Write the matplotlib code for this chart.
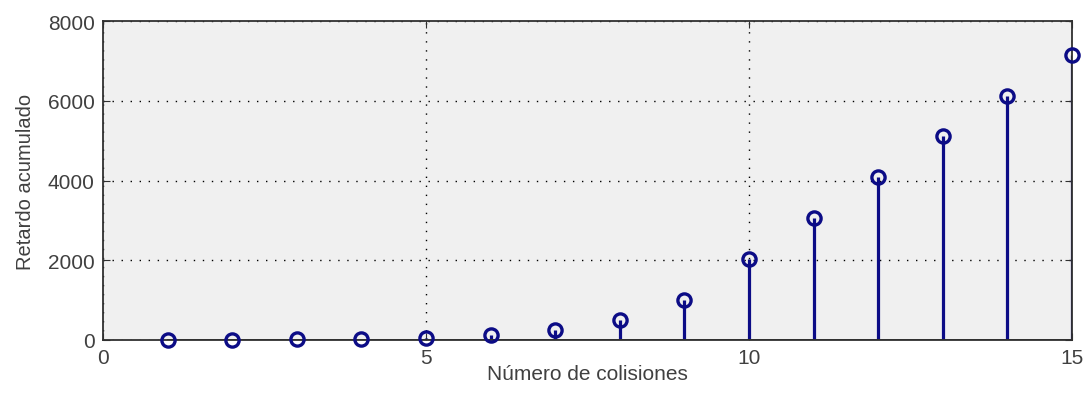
import numpy as np
import matplotlib.pyplot as plt

# numero de colisiones y retardo acumulado
colisiones = [1, 2, 3, 4, 5, 6, 7, 8, 9, 10, 11, 12, 13, 14, 15]
retardo = [1, 4, 11, 26, 57, 120, 247, 502, 1013, 2036, 3059, 4082, 5105, 6128, 7151]

x_ticks = [0, 5, 10, 15]
y_ticks = [0, 2000, 4000, 6000, 8000]

azul = '#0c0c86'
gris = '#404040'

plt.rcParams['font.family'] = ['Liberation Sans', 'DejaVu Sans']

fig = plt.figure(figsize=(10.84, 4.02), dpi=100)
ax = fig.add_axes([0.095, 0.152, 0.894, 0.793])
ax.set_facecolor('#f0f0f0')

markers, stems, base = ax.stem(colisiones, retardo, linefmt='-', markerfmt='o', basefmt='-')
plt.setp(stems, color=azul, linewidth=2.3)
plt.setp(markers, markerfacecolor='none', markeredgecolor=azul, markersize=9.5, markeredgewidth=2.4, clip_on=False, zorder=4)
plt.setp(base, color='#303030', linewidth=1.3)

ax.set_xlim(0, 15)
ax.set_ylim(0, 8000)
ax.set_xticks(x_ticks)
ax.set_yticks(y_ticks)

ax.grid(True, linestyle=(0, (1, 5.5)), color='black', linewidth=1.0)
ax.set_axisbelow(True)

for s in ax.spines.values():
    s.set_color('#303030')
    s.set_linewidth(1.3)

ax.tick_params(direction='in', length=5, top=True, right=True, labelsize=15, labelcolor=gris, color='#303030', pad=6)

ax.set_xlabel('Número de colisiones', fontsize=15, color=gris, labelpad=-2)
ax.set_ylabel('Retardo acumulado', fontsize=14.5, color=gris, labelpad=9)

fig.savefig('out.png', dpi=100)
